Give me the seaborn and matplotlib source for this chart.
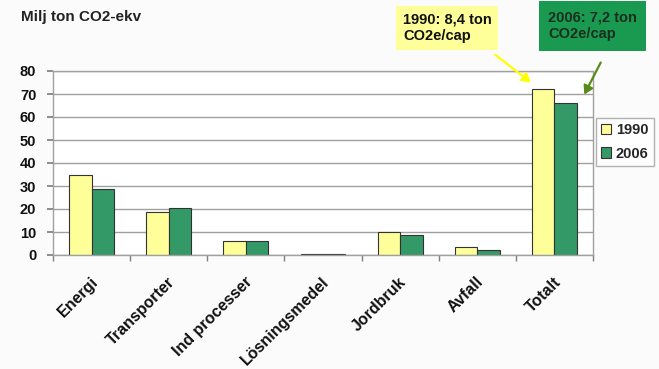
import matplotlib
matplotlib.use("Agg")
import matplotlib.pyplot as plt
import matplotlib.transforms as mtransforms
import seaborn as sns
import pandas as pd
import numpy as np

categories = ["Energi", "Transporter", "Ind processer", "Lösningsmedel",
              "Jordbruk", "Avfall", "Totalt"]
values_1990 = [35.0, 18.5, 6.0, 0.3, 9.8, 3.5, 72.0]
values_2006 = [28.7, 20.3, 6.2, 0.3, 8.8, 2.0, 66.0]
years = ["1990", "2006"]
yticks = [0, 10, 20, 30, 40, 50, 60, 70, 80]

df = pd.DataFrame({
    "kategori": categories * 2,
    "värde": values_1990 + values_2006,
    "år": [years[0]] * len(categories) + [years[1]] * len(categories),
})

sns.set_theme(style="white")
plt.rcParams["font.family"] = ["Liberation Sans", "DejaVu Sans"]

fig = plt.figure(figsize=(6.59, 3.69), dpi=100)
fig.patch.set_facecolor("#fbfbfb")
ax = fig.add_axes([53 / 659, 1 - 255 / 369, 540 / 659, 184 / 369])

palette = {"1990": "#ffff99", "2006": "#339966"}
sns.barplot(data=df, x="kategori", y="värde", hue="år", palette=palette,
            width=0.58, edgecolor="#333333", linewidth=0.8, saturation=1,
            ax=ax, legend=True)

ax.set_ylim(0, 80)
ax.set_xlim(-0.5, len(categories) - 0.5)
ax.set_yticks(yticks)
ax.set_yticklabels([str(t) for t in yticks], fontsize=10.5, fontweight="bold",
                   color="#111111")
ax.yaxis.grid(True, color="#a0a0a0", linewidth=1.0)
ax.set_axisbelow(True)
ax.set_xlabel("")
ax.set_ylabel("")
ax.set_facecolor("white")
for s in ax.spines.values():
    s.set_color("#a0a0a0")
    s.set_linewidth(1.0)

ax.tick_params(axis="y", which="major", length=4, color="#808080", left=True, pad=8)
ax.set_xticks(range(len(categories)))
ax.set_xticklabels(categories, rotation=45, ha="right", rotation_mode="anchor",
                   fontsize=11.5, fontweight="bold", color="#111111")
ax.tick_params(axis="x", which="major", length=0, pad=10)
shift = mtransforms.ScaledTranslation(-1 / 72, -4 / 72, fig.dpi_scale_trans)
for lbl in ax.get_xticklabels():
    lbl.set_transform(lbl.get_transform() + shift)
ax.set_xticks(np.arange(-0.5, len(categories)), minor=True)
ax.tick_params(axis="x", which="minor", length=4, color="#808080", bottom=True)

leg = ax.legend(loc="upper left", bbox_to_anchor=(596 / 659, 1 - 118 / 369),
                bbox_transform=fig.transFigure, frameon=True, fancybox=False,
                prop={"weight": "bold", "size": 10.5}, handlelength=0.7,
                handleheight=0.7, handletextpad=0.3, borderpad=0.35,
                labelspacing=0.65, borderaxespad=0)
leg.get_frame().set_edgecolor("#a0a0a0")
leg.get_frame().set_linewidth(1.0)

fig.text(21 / 659, 1 - 17 / 369, "Milj ton CO2-ekv", fontsize=11,
         fontweight="bold", color="#222222", va="center", ha="left")

# Per-capita callouts
fig.text(403 / 659, 1 - 28 / 369, "1990: 8,4 ton\nCO2e/cap", fontsize=10.5,
         fontweight="bold", color="#111111", va="center", ha="left",
         linespacing=1.25,
         bbox=dict(boxstyle="square,pad=0.45", facecolor="#ffff99",
                   edgecolor="none"))
fig.text(548 / 659, 1 - 26 / 369, "2006: 7,2 ton\nCO2e/cap", fontsize=10.5,
         fontweight="bold", color="#1a2e1e", va="center", ha="left",
         linespacing=1.25,
         bbox=dict(boxstyle="square,pad=0.65", facecolor="#1a9a50",
                   edgecolor="none"))

fig.add_artist(matplotlib.patches.FancyArrowPatch(
    (493 / 659, 1 - 53 / 369), (533 / 659, 1 - 84 / 369),
    transform=fig.transFigure, arrowstyle="-|>,head_length=5,head_width=3",
    color="#ffff00", linewidth=1.6))
fig.add_artist(matplotlib.patches.FancyArrowPatch(
    (602 / 659, 1 - 60 / 369), (583 / 659, 1 - 97 / 369),
    transform=fig.transFigure, arrowstyle="-|>,head_length=5,head_width=3",
    color="#5a8a1a", linewidth=1.6))

fig.savefig("out.png", dpi=100, facecolor=fig.get_facecolor())
